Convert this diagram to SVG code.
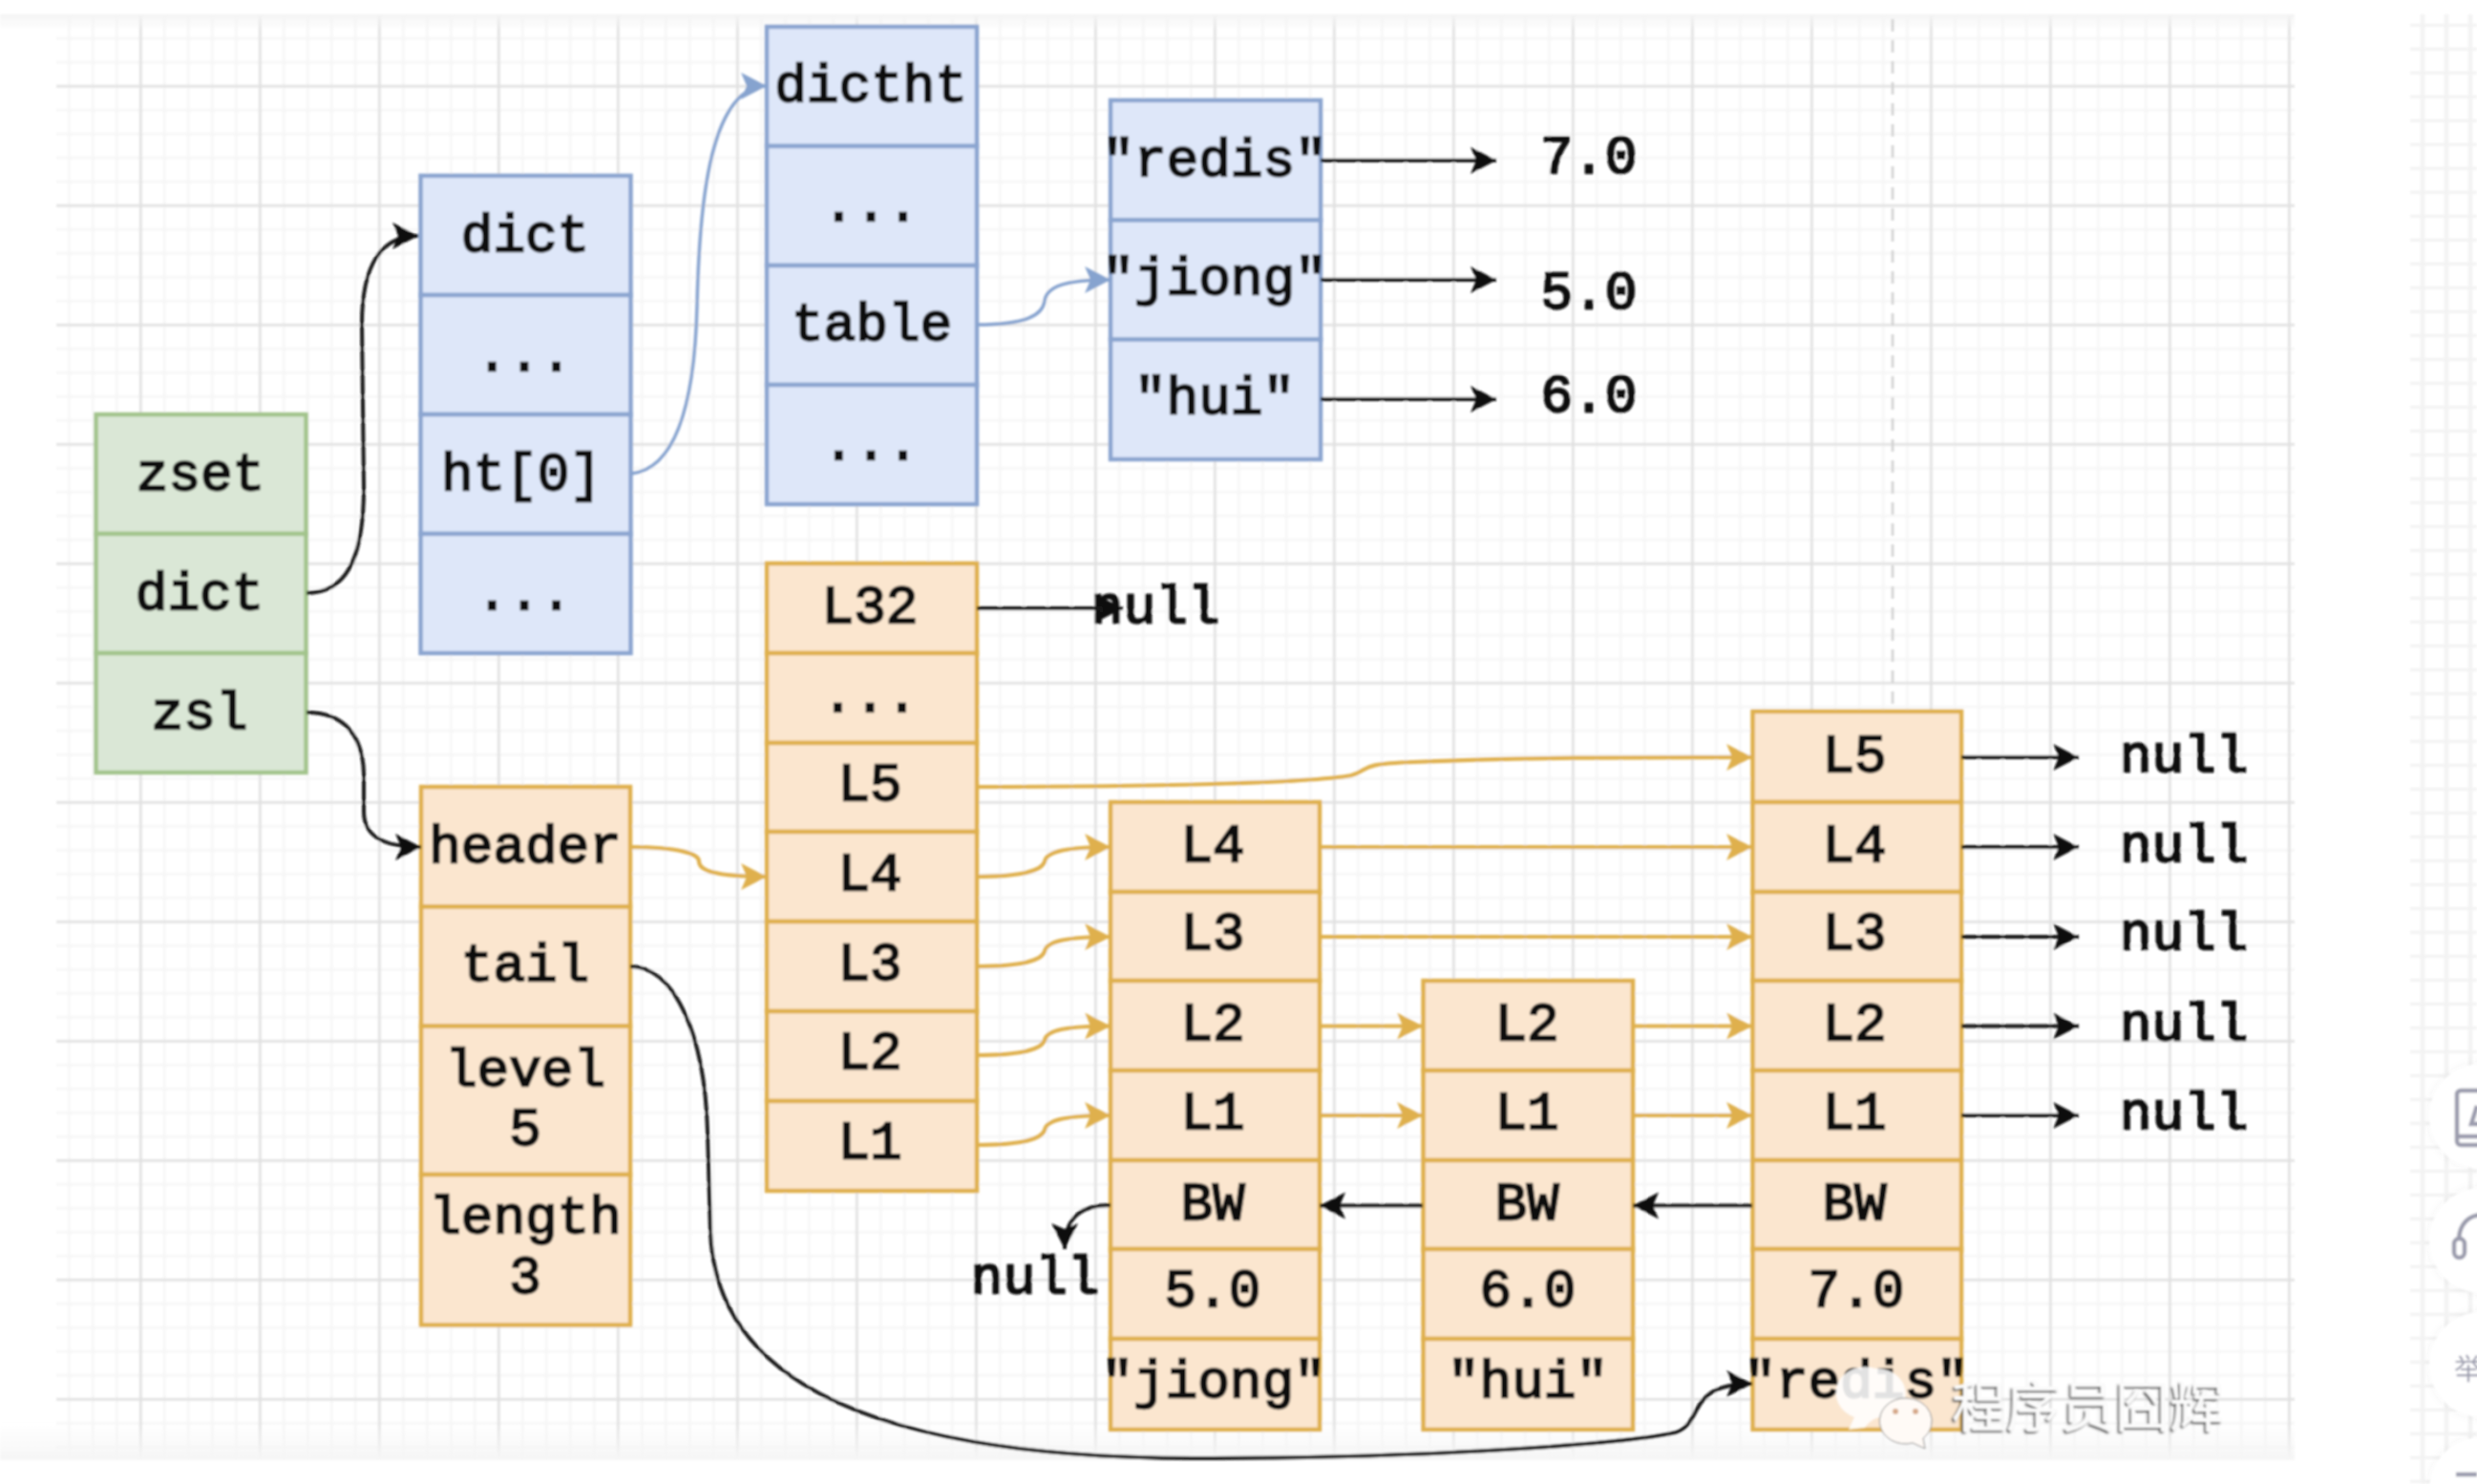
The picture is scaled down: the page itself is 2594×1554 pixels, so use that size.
<svg xmlns="http://www.w3.org/2000/svg" width="2594" height="1554" viewBox="0 0 2594 1554">
<style>
.t{font-family:"Liberation Mono","Courier New",monospace;font-size:56px;font-weight:400;text-anchor:middle;fill:#111;stroke:#111;stroke-width:2.3}
.g{fill:#dae7d6;stroke:#a3c48c;stroke-width:4.5}
.b{fill:#dee7f9;stroke:#8ba5d0;stroke-width:4.5}
.o{fill:#fbe6cf;stroke:#dfb04e;stroke-width:4.5}
.k,.y,.u{fill:none}
.k{stroke:#151515;stroke-width:4;marker-end:url(#ak)}
.y{stroke:#dfb04e;stroke-width:4.2;marker-end:url(#ay)}
.u{stroke:#86a3cf;stroke-width:3.5;marker-end:url(#au)}
</style>
<defs>
<marker id="ak" markerUnits="userSpaceOnUse" markerWidth="30" markerHeight="30" refX="27" refY="14" orient="auto"><path d="M27 14 L0 0 L6 14 L0 28 Z" fill="#111"/></marker>
<marker id="ay" markerUnits="userSpaceOnUse" markerWidth="30" markerHeight="30" refX="27" refY="14" orient="auto"><path d="M27 14 L0 0 L6 14 L0 28 Z" fill="#dfb04e"/></marker>
<marker id="au" markerUnits="userSpaceOnUse" markerWidth="30" markerHeight="30" refX="27" refY="14" orient="auto"><path d="M27 14 L0 0 L6 14 L0 28 Z" fill="#86a3cf"/></marker>
<pattern id="grid" patternUnits="userSpaceOnUse" width="125" height="125" x="134.8" y="77.8">
<path d="M37.5 0V125M62.5 0V125M87.5 0V125M112.500 0V125M0 37.5H125M0 62.5H125M0 87.5H125M0 112.500H125" stroke="#f6f6f6" stroke-width="2.500" fill="none"/>
<path d="M12.5 0V125M0 12.5H125" stroke="#e0e0e0" stroke-width="2.500" fill="none"/>
</pattern>
<pattern id="grid2" patternUnits="userSpaceOnUse" width="25" height="25" x="2524.5" y="-0.2">
<path d="M12.5 0V25M0 1H25" stroke="#f3f3f3" stroke-width="4.5" fill="none"/>
</pattern>
<linearGradient id="top" x1="0" y1="0" x2="0" y2="1"><stop offset="0" stop-color="#f4f4f4"/><stop offset="1" stop-color="#f4f4f4" stop-opacity="0"/></linearGradient>
<linearGradient id="bot" x1="0" y1="0" x2="0" y2="1"><stop offset="0" stop-color="#f6f6f6" stop-opacity="0"/><stop offset="1" stop-color="#f6f6f6"/></linearGradient>
<filter id="wm" x="-10%" y="-20%" width="120%" height="140%"><feDropShadow dx="-2" dy="2" stdDeviation="1.2" flood-color="#555"/></filter>
<filter id="sh" x="-30%" y="-30%" width="160%" height="160%"><feDropShadow dx="0" dy="0" stdDeviation="5" flood-color="#000" flood-opacity=".07"/></filter>
<filter id="soft" filterUnits="userSpaceOnUse" x="0" y="0" width="2594" height="1554"><feGaussianBlur stdDeviation="0.8"/></filter>
</defs>
<rect width="2594" height="1554" fill="#fff"/>
<g filter="url(#soft)">
<g id="background">
<rect x="59" y="15" width="2344" height="1514" fill="url(#grid)"/>
<rect x="0" y="15" width="2403" height="16" fill="url(#top)"/>
<rect x="0" y="1490" width="2403" height="39" fill="url(#bot)"/>
<path d="M1982 20V745" stroke="#d0d0d0" stroke-width="2.5" stroke-dasharray="13 9" fill="none"/>
<rect x="2524" y="15" width="70" height="1539" fill="url(#grid2)"/>
</g>
<g id="zset"><rect class="g" x="100.5" y="434" width="220" height="125"/><text class="t" x="210" y="513">zset</text></g>
<g id="zset-dict"><rect class="g" x="100.5" y="559" width="220" height="125"/><text class="t" x="209" y="638">dict</text></g>
<g id="zset-zsl"><rect class="g" x="100.5" y="684" width="220" height="125"/><text class="t" x="209" y="763">zsl</text></g>
<g id="dict-dict"><rect class="b" x="440.5" y="184" width="220" height="125"/><text class="t" x="550" y="263">dict</text></g>
<g id="dict-dots1"><rect class="b" x="440.5" y="309" width="220" height="125"/><text class="t" x="549" y="388">...</text></g>
<g id="dict-ht0"><rect class="b" x="440.5" y="434" width="220" height="125"/><text class="t" x="546" y="513">ht[0]</text></g>
<g id="dict-dots2"><rect class="b" x="440.5" y="559" width="220" height="125"/><text class="t" x="549" y="638">...</text></g>
<g id="dictht"><rect class="b" x="803" y="28" width="220" height="125"/><text class="t" x="912" y="106">dictht</text></g>
<g id="dictht-dots1"><rect class="b" x="803" y="153" width="220" height="125"/><text class="t" x="912" y="231">...</text></g>
<g id="dictht-table"><rect class="b" x="803" y="278" width="220" height="125"/><text class="t" x="913" y="356">table</text></g>
<g id="dictht-dots2"><rect class="b" x="803" y="403" width="220" height="125"/><text class="t" x="912" y="481">...</text></g>
<g id="entry-redis"><rect class="b" x="1163" y="105" width="220" height="125.500"/><text class="t" x="1272" y="184">"redis"</text></g>
<g id="entry-jiong"><rect class="b" x="1163" y="230.500" width="220" height="125"/><text class="t" x="1272" y="308">"jiong"</text></g>
<g id="entry-hui"><rect class="b" x="1163" y="355.500" width="220" height="125.500"/><text class="t" x="1272" y="433">"hui"</text></g>
<g id="header-L32"><rect class="o" x="803" y="590" width="220" height="94"/><text class="t" x="911" y="652">L32</text></g>
<g id="header-dots"><rect class="o" x="803" y="684" width="220" height="94"/><text class="t" x="911" y="745">...</text></g>
<g id="header-L5"><rect class="o" x="803" y="778" width="220" height="93"/><text class="t" x="911" y="838">L5</text></g>
<g id="header-L4"><rect class="o" x="803" y="871" width="220" height="94"/><text class="t" x="911" y="932">L4</text></g>
<g id="header-L3"><rect class="o" x="803" y="965" width="220" height="94"/><text class="t" x="911" y="1026">L3</text></g>
<g id="header-L2"><rect class="o" x="803" y="1059" width="220" height="94"/><text class="t" x="911" y="1119">L2</text></g>
<g id="header-L1"><rect class="o" x="803" y="1153" width="220" height="94"/><text class="t" x="911" y="1213">L1</text></g>
<g id="list-header"><rect class="o" x="441" y="824" width="219" height="125.500"/><text class="t" x="550" y="903">header</text></g>
<g id="list-tail"><rect class="o" x="441" y="949.500" width="219" height="125"/><text class="t" x="550" y="1027">tail</text></g>
<g id="list-level"><rect class="o" x="441" y="1074.500" width="219" height="155.500"/><text class="t" x="550" y="1137">level</text><text class="t" x="550" y="1199">5</text></g>
<g id="list-length"><rect class="o" x="441" y="1230" width="219" height="157.500"/><text class="t" x="550" y="1291">length</text><text class="t" x="550" y="1354">3</text></g>
<g id="n1-L4"><rect class="o" x="1163" y="840" width="219" height="94"/><text class="t" x="1270" y="902">L4</text></g>
<g id="n1-L3"><rect class="o" x="1163" y="934" width="219" height="93"/><text class="t" x="1270" y="994">L3</text></g>
<g id="n1-L2"><rect class="o" x="1163" y="1027" width="219" height="94"/><text class="t" x="1270" y="1089">L2</text></g>
<g id="n1-L1"><rect class="o" x="1163" y="1121" width="219" height="94"/><text class="t" x="1270" y="1182">L1</text></g>
<g id="n1-BW"><rect class="o" x="1163" y="1215" width="219" height="93"/><text class="t" x="1270" y="1277">BW</text></g>
<g id="n1-score"><rect class="o" x="1163" y="1308" width="219" height="94"/><text class="t" x="1270" y="1368">5.0</text></g>
<g id="n1-member"><rect class="o" x="1163" y="1402" width="219" height="95"/><text class="t" x="1271" y="1463">"jiong"</text></g>
<g id="n2-L2"><rect class="o" x="1490.500" y="1027" width="219.500" height="94"/><text class="t" x="1599" y="1089">L2</text></g>
<g id="n2-L1"><rect class="o" x="1490.500" y="1121" width="219.500" height="94"/><text class="t" x="1599" y="1182">L1</text></g>
<g id="n2-BW"><rect class="o" x="1490.500" y="1215" width="219.500" height="93"/><text class="t" x="1599" y="1277">BW</text></g>
<g id="n2-score"><rect class="o" x="1490.500" y="1308" width="219.500" height="94"/><text class="t" x="1600" y="1368">6.0</text></g>
<g id="n2-member"><rect class="o" x="1490.500" y="1402" width="219.500" height="95"/><text class="t" x="1600" y="1463">"hui"</text></g>
<g id="n3-L5"><rect class="o" x="1835.500" y="745" width="218.500" height="95"/><text class="t" x="1942" y="808">L5</text></g>
<g id="n3-L4"><rect class="o" x="1835.500" y="840" width="218.500" height="94"/><text class="t" x="1942" y="902">L4</text></g>
<g id="n3-L3"><rect class="o" x="1835.500" y="934" width="218.500" height="93"/><text class="t" x="1942" y="994">L3</text></g>
<g id="n3-L2"><rect class="o" x="1835.500" y="1027" width="218.500" height="94"/><text class="t" x="1942" y="1089">L2</text></g>
<g id="n3-L1"><rect class="o" x="1835.500" y="1121" width="218.500" height="94"/><text class="t" x="1942" y="1182">L1</text></g>
<g id="n3-BW"><rect class="o" x="1835.500" y="1215" width="218.500" height="93"/><text class="t" x="1942" y="1277">BW</text></g>
<g id="n3-score"><rect class="o" x="1835.500" y="1308" width="218.500" height="94"/><text class="t" x="1944" y="1368">7.0</text></g>
<g id="n3-member"><rect class="o" x="1835.500" y="1402" width="218.500" height="95"/><text class="t" x="1944" y="1463">"redis"</text></g>
<g id="labels">
<text class="t" x="1664" y="181">7.0</text>
<text class="t" x="1664" y="323">5.0</text>
<text class="t" x="1664" y="431">6.0</text>
<text class="t" x="1210" y="652">null</text>
<text class="t" x="2287" y="808">null</text>
<text class="t" x="2287" y="902">null</text>
<text class="t" x="2287" y="994">null</text>
<text class="t" x="2287" y="1089">null</text>
<text class="t" x="2287" y="1182">null</text>
<text class="t" x="1084" y="1354">null</text>
</g>
<g id="connectors">
<path class="k" d="M321 621C360 621 381 590 381 510L379 340C379 275 400 247 438 247"/>
<path class="k" d="M321 746C360 746 380 770 381 810V850C381 875 400 887 441 887"/>
<path class="u" d="M661 496C715 490 728 400 730 320C732 230 740 90 803 90"/>
<path class="u" d="M1023 340C1075 340 1092 330 1094 315C1096 300 1115 293 1163 293"/>
<path class="k" d="M1383 168H1567"/>
<path class="k" d="M1383 293H1567"/>
<path class="k" d="M1383 418H1567"/>
<path class="k" d="M1023 637H1176"/>
<path class="y" d="M1023 824C1200 824 1370 820 1415 812C1435 806 1420 800 1480 798C1600 793 1700 793 1835 793"/>
<path class="y" d="M660 887C715 887 732 895 732 902C732 912 750 918 803 918"/>
<path class="y" d="M1023 918C1075 918 1092 910 1094 902C1096 892 1115 887 1163 887"/>
<path class="y" d="M1023 1012C1075 1012 1092 1004 1094 996C1096 986 1115 981 1163 981"/>
<path class="y" d="M1023 1105C1075 1105 1092 1097 1094 1089C1096 1079 1115 1074.500 1163 1074.500"/>
<path class="y" d="M1023 1199C1075 1199 1092 1191 1094 1183C1096 1173 1115 1168 1163 1168"/>
<path class="y" d="M1382 887H1835"/>
<path class="y" d="M1382 981H1835"/>
<path class="y" d="M1382 1074.500H1490"/>
<path class="y" d="M1382 1168H1490"/>
<path class="y" d="M1710 1074.500H1835"/>
<path class="y" d="M1710 1168H1835"/>
<path class="k" d="M1490 1262.500H1382"/>
<path class="k" d="M1835 1262.500H1710"/>
<path class="k" d="M2054 793H2177"/>
<path class="k" d="M2054 887H2177"/>
<path class="k" d="M2054 981H2177"/>
<path class="k" d="M2054 1074.500H2177"/>
<path class="k" d="M2054 1168H2177"/>
<path class="k" d="M1163 1262C1135 1262 1115 1272 1115 1308"/>
<path class="k" d="M660 1012C705 1012 738 1080 741 1185L744 1290C748 1400 830 1526 1250 1527C1500 1527 1700 1512 1755 1500C1785 1490 1765 1449 1835 1449"/>
</g>
<g id="watermark">
<path d="M1964 1433a30 27 0 0 1 19 49l-2 1a27 24 0 0 0-28 12l-17 2 6-13a30 27 0 0 1 22-51Z" fill="#fff" fill-opacity=".88"/>
<path d="M1996 1464a27 24 0 0 1 18 42l2 11-13-6a27 24 0 1 1-7-47Z" fill="#fffaf6" stroke="#8a8a8a" stroke-width="1"/>
<circle cx="1985" cy="1478" r="3" fill="#d7a98a"/><circle cx="2006" cy="1478" r="3" fill="#d7a98a"/>
<text x="2044" y="1494" font-family="'Noto Sans CJK SC',sans-serif" font-size="57" fill="#fbfbfb" filter="url(#wm)">程序员囧辉</text>
</g>
<g id="side-tools">
<circle cx="2599" cy="1169" r="55" fill="#fff" filter="url(#sh)"/>
<circle cx="2599" cy="1299" r="55" fill="#fff" filter="url(#sh)"/>
<circle cx="2599" cy="1429" r="55" fill="#fff" filter="url(#sh)"/>
<circle cx="2599" cy="1560" r="55" fill="#fff" filter="url(#sh)"/>
<path d="M2600 1142H2577a4 4 0 0 0-4 4V1195a4 4 0 0 0 4 4H2600M2573 1190H2600M2594 1158L2588 1177H2600" fill="none" stroke="#9b9cad" stroke-width="4.500"/>
<path d="M2600 1272C2585 1272 2576 1282 2575 1297" fill="none" stroke="#9b9cad" stroke-width="4.500"/>
<rect x="2570" y="1297" width="11" height="20" rx="5.500" fill="none" stroke="#9b9cad" stroke-width="4.500"/>
<text x="2570" y="1444" font-family="'Noto Sans CJK SC',sans-serif" font-size="30" fill="#9b9cad">举</text>
<path d="M2572 1544H2594" stroke="#9b9cad" stroke-width="4.500"/>
</g>
</g>
</svg>
